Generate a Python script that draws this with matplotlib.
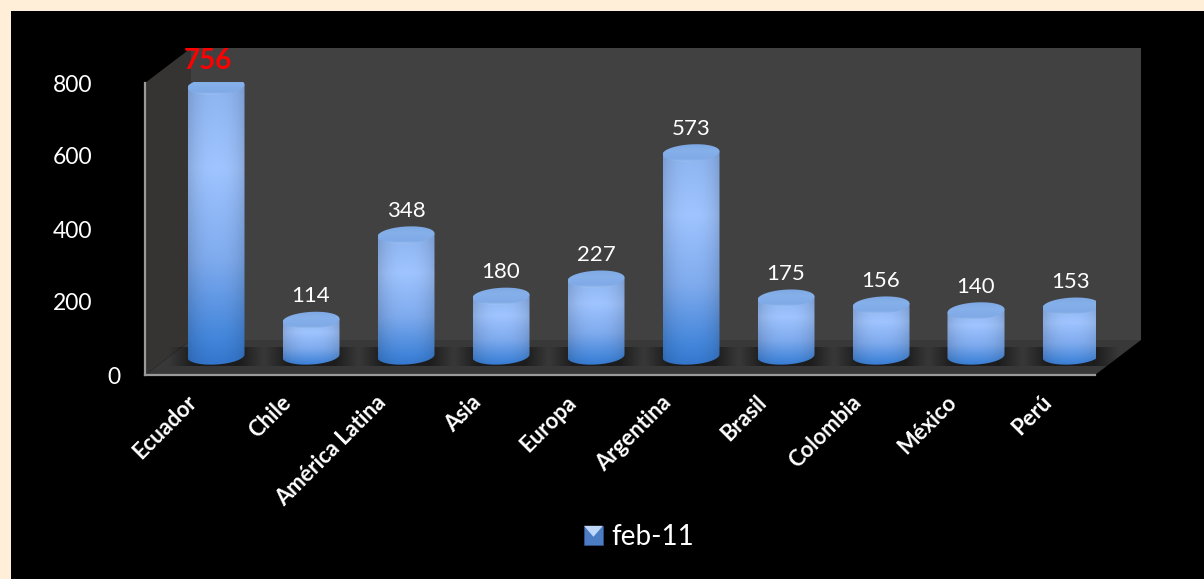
import numpy as np
import matplotlib
matplotlib.use('Agg')
import matplotlib.pyplot as plt
from matplotlib.colors import to_rgb
from matplotlib.legend_handler import HandlerBase
from matplotlib.patches import Patch, Polygon, Rectangle, PathPatch
from matplotlib.path import Path
from matplotlib.transforms import ScaledTranslation

categories = ['Ecuador', 'Chile', 'América Latina', 'Asia', 'Europa', 'Argentina',
              'Brasil', 'Colombia', 'México', 'Perú']
values = [756, 114, 348, 180, 227, 573, 175, 156, 140, 153]
series_name = 'feb-11'
y_ticks = [0, 200, 400, 600, 800]

W, H = 1204, 579
plt.rcParams['font.family'] = ['Lato', 'DejaVu Sans']

fig = plt.figure(figsize=(W / 100, H / 100), dpi=100, facecolor='#FFEFD9')
fig.add_artist(Rectangle((11 / W, 0), 1, 1 - 11 / H, transform=fig.transFigure,
                         facecolor='black', edgecolor='none', zorder=-10))

# front plane of the 3d box
ax = fig.add_axes([145 / W, 1 - 375 / H, 950 / W, 292 / H])
ax.patch.set_visible(False)
PX_X = 95.0
PX_Y = 292 / 800
wall_dx = 46 / PX_X
wall_dy = 35 / PX_Y
bar_dx = 23.5 / PX_X
bar_dy = 13 / PX_Y
half_w = 28.5 / PX_X
ell_h = 8.5 / PX_Y
tilt = 1.6 / PX_Y
base_y = 52
xmin, xmax = -0.5, 9.5


def vgrad(colors, stops, n=200):
    t = np.linspace(0, 1, n)
    rgb = np.array([to_rgb(c) for c in colors])
    return np.stack([np.interp(t, stops, rgb[:, k]) for k in range(3)], axis=1)


# walls and floor
ax.add_patch(Polygon([(xmin + wall_dx, wall_dy), (xmax + wall_dx, wall_dy),
                      (xmax + wall_dx, 800 + wall_dy), (xmin + wall_dx, 800 + wall_dy)],
                     facecolor='#414141', edgecolor='none', clip_on=False, zorder=1))
ax.add_patch(Polygon([(xmin, 0), (xmin + wall_dx, wall_dy), (xmin + wall_dx, 800 + wall_dy), (xmin, 800)],
                     facecolor='#363433', edgecolor='none', clip_on=False, zorder=1))
ax.add_patch(Polygon([(xmin, 0), (xmax, 0), (xmax + wall_dx, wall_dy), (xmin + wall_dx, wall_dy)],
                     facecolor='#383838', edgecolor='none', clip_on=False, zorder=1))


def ellipse_xy(cx, cy, t):
    return cx + half_w * np.cos(t), cy + ell_h * np.sin(t) + tilt * np.cos(t)


def draw_cylinder(cx, value):
    top = value + bar_dy
    # floor shadow, fades out sideways
    u = np.abs(np.linspace(-1, 1, 120))
    shadow = np.zeros((1, 120, 4))
    shadow[0, :, 3] = np.clip((1 - u) * 2.0, 0, 1) * 0.5
    floor_top = wall_dy - 7 / PX_Y
    floor_bot = 9 / PX_Y
    ax.imshow(shadow, extent=[cx - 0.5, cx + 0.5, floor_bot, floor_top], aspect='auto',
              interpolation='bilinear', zorder=2, clip_on=False)

    # body, lit in the middle and saturated at the foot
    t_low = np.linspace(0, -np.pi, 60)
    bx, by = ellipse_xy(cx, base_y, t_low)
    tx, ty = ellipse_xy(cx, top, np.array([np.pi, 0]))
    px = np.r_[bx, tx]
    py = np.r_[by, ty]
    body = PathPatch(Path(np.c_[px, py]), transform=ax.transData, facecolor='none', edgecolor='none')
    ax.add_patch(body)
    col = vgrad(['#8db4f0', '#9fc4ff', '#7fabee', '#4285da', '#3274ca'], [0, 0.3, 0.62, 0.9, 1])
    u = np.linspace(-1, 1, 120)
    shade = 0.86 + 0.14 * (1 - np.abs(u) ** 2.4)
    img = col[:, None, :] * shade[None, :, None]
    im = ax.imshow(np.clip(img, 0, 1), extent=[cx - half_w, cx + half_w, base_y - ell_h - 2 * tilt, top + 2 * tilt],
                   aspect='auto', interpolation='bilinear', zorder=3)
    im.set_clip_box(None)
    im.set_clip_path(body)

    # lid
    t_all = np.linspace(0, 2 * np.pi, 120)
    lx, ly = ellipse_xy(cx, top, t_all)
    lid = PathPatch(Path(np.c_[lx, ly]), transform=ax.transData, facecolor='none', edgecolor='none')
    ax.add_patch(lid)
    lid_col = vgrad(['#7aa5e0', '#86b0ea', '#80aae6', '#a8caf8'], [0, 0.4, 0.82, 1], n=40)
    im2 = ax.imshow(lid_col[:, None, :], extent=[cx - half_w, cx + half_w, top - ell_h - tilt, top + ell_h + tilt],
                    aspect='auto', interpolation='bilinear', zorder=4)
    im2.set_clip_box(None)
    im2.set_clip_path(lid)


for i, v in enumerate(values):
    draw_cylinder(i + bar_dx, v)

    # labels sit above the lid
    if i == 0:
        ax.annotate(str(v), (i + bar_dx, v + bar_dy), xytext=(-8, 25), textcoords='offset pixels',
                    ha='center', va='center', color='#FF0000', fontsize=20, fontweight='bold',
                    zorder=6, annotation_clip=False)
    else:
        ax.annotate(str(v), (i + bar_dx, v + bar_dy), xytext=(0, 24), textcoords='offset pixels',
                    ha='center', va='center', color='white', fontsize=16, zorder=6,
                    annotation_clip=False)

ax.set_xlim(xmin, xmax)
ax.set_ylim(0, 800)
ax.set_xticks(range(len(categories)))
ax.set_xticklabels(categories, rotation=45, ha='right', va='top', rotation_mode='anchor',
                   color='white', fontsize=15.8, fontweight='bold')
ax.set_yticks(y_ticks)
ax.tick_params(axis='both', length=0)
ax.tick_params(axis='y', pad=38, labelsize=16.5, labelcolor='white')
ax.tick_params(axis='x', pad=12)

offset = ScaledTranslation(-7 / 100, 0, fig.dpi_scale_trans)
for lab in ax.get_xticklabels():
    lab.set_transform(lab.get_transform() + offset)
# the zero sits closer to the axis than the others
zero_off = ScaledTranslation(28 / 100, 0, fig.dpi_scale_trans)
lab0 = ax.get_yticklabels()[0]
lab0.set_transform(lab0.get_transform() + zero_off)

for s in ['top', 'right']:
    ax.spines[s].set_visible(False)
for s in ['left', 'bottom']:
    ax.spines[s].set_color('#9a9a9a')
    ax.spines[s].set_linewidth(1.6)
    ax.spines[s].set_zorder(5)


class SquareHandler(HandlerBase):
    def create_artists(self, legend, orig_handle, xdescent, ydescent, width, height, fontsize, trans):
        s = width
        y0 = -ydescent + (height - s) / 2
        base = Rectangle((-xdescent, y0), s, s, facecolor='#4C7CC4', edgecolor='#34558c', lw=0.5, transform=trans)
        tri = Polygon([(-xdescent, y0 + s), (-xdescent + s, y0 + s), (-xdescent + s / 2, y0 + s * 0.42)],
                      facecolor='#BFD8FA', edgecolor='none', transform=trans)
        return [base, tri]


fig.legend([Patch(facecolor='#4C7CC4')], [series_name], loc='center', bbox_to_anchor=(639 / W, 1 - 537 / H),
           frameon=False, fontsize=20, labelcolor='white', handlelength=0.68, handleheight=0.68,
           handletextpad=0.3, handler_map={Patch: SquareHandler()})

fig.savefig('out.png', dpi=100, facecolor=fig.get_facecolor())
